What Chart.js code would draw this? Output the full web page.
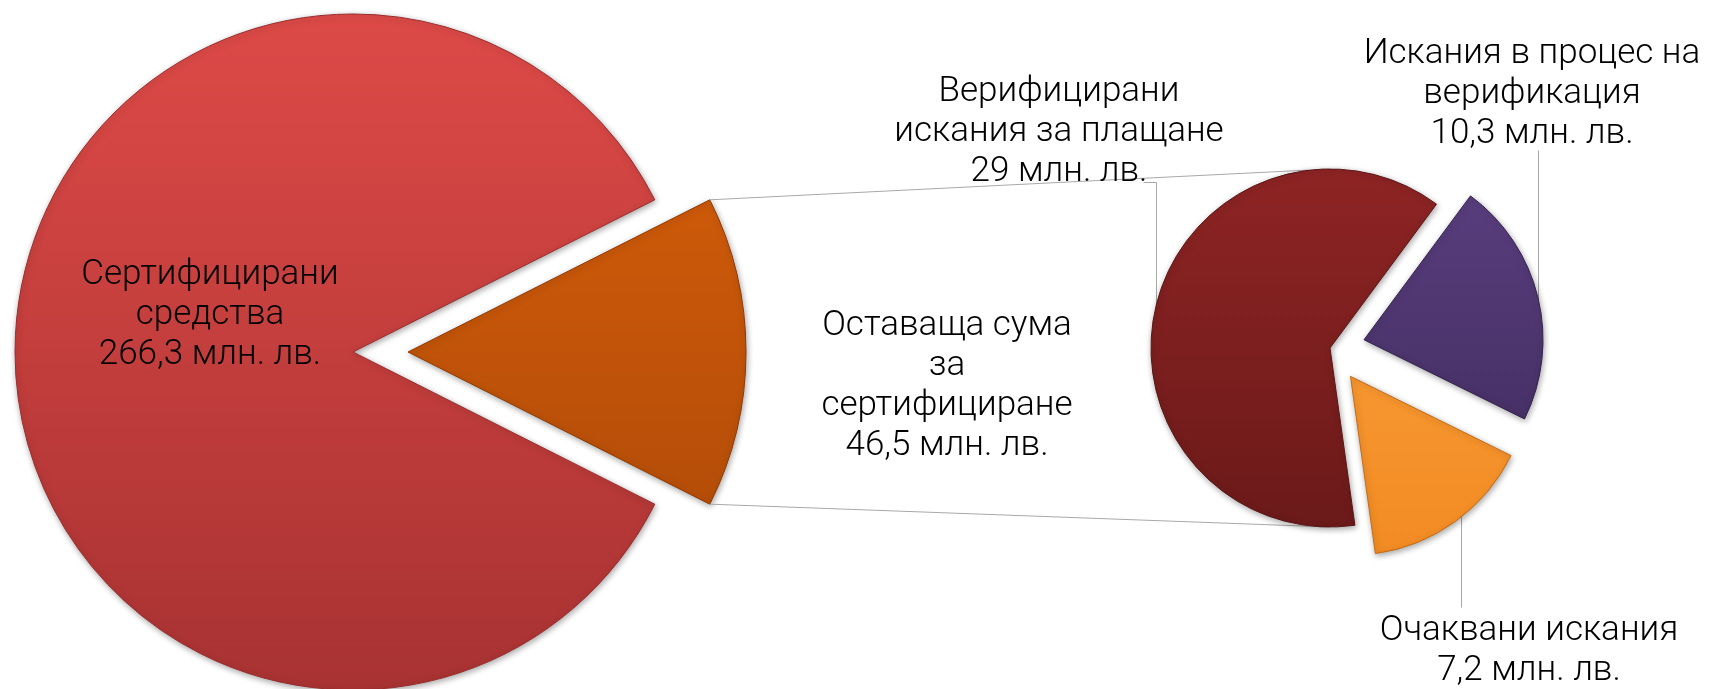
<!DOCTYPE html>
<html lang="bg">
<head>
<meta charset="utf-8">
<title>Pie of pie</title>
<script src="https://cdn.jsdelivr.net/npm/chart.js@4"></script>
<style>
  html, body { margin: 0; padding: 0; background: #fff; overflow: hidden; }
  #wrap { position: relative; width: 1715px; height: 689px; }
  #wrap canvas { position: absolute; left: 0; top: 0; }
  .lbl {
    position: absolute;
    transform: translate(-50%, -50%);
    text-align: center;
    white-space: nowrap;
    font-family: "Helvetica Neue", Roboto, Inter, sans-serif;
    font-weight: 300;
    font-size: 35px;
    line-height: 40px;
    color: #000;
  }
</style>
</head>
<body>
<div id="wrap">
  <canvas id="bigPie" width="1715" height="689"></canvas>
  <canvas id="smallPie" width="1715" height="689"></canvas>
</div>
<script>
// main pie: certified vs remaining (млн. лв.)
const bigNames = [['Сертифицирани', 'средства'], ['Оставаща сума', 'за', 'сертифициране']];
const bigValues = [266.3, 46.5];

// breakdown of the remaining sum
const smallNames = [['Верифицирани', 'искания за плащане'], ['Искания в процес на', 'верификация'], ['Очаквани искания']];
const smallValues = [29, 10.3, 7.2];

const unit = 'млн. лв.';

// styles
const bigColors = [['#dd4a47', '#a83232'], ['#dc610b', '#a64607']];
const bigBorders = ['#9a2c2c', '#8e3a05'];
const smallColors = [['#8e2424', '#6a1919'], ['#5b3f80', '#3e2a5b'], ['#fba23c', '#f28a22']];
const smallBorders = ['#5a1414', '#33224c', '#c46a14'];
const bigShift = [0, 55];
const smallShift = [0, 35, 35];
const lineColor = '#a8a8a8';

// where the label blocks sit
const bigLabelPos = [[210, 313], [947, 384]];
const smallLabelPos = [[1059, 130], [1532, 92], [1529, 649]];
const leaders = [
  [[1143, 182], [1156, 182], [1156, 348]],
  [[1538, 150], [1538, 348]],
  [[1461, 607], [1461, 470]]
];

function vgrad(top, bottom, pairs) {
  return c => {
    const g = c.chart.ctx.createLinearGradient(0, top, 0, bottom);
    const p = pairs[c.dataIndex] || pairs[0];
    g.addColorStop(0, p[0]);
    g.addColorStop(1, p[1]);
    return g;
  };
}

// draw each slice pushed out along its middle angle (no radius change)
const explodePlugin = {
  id: 'explode',
  beforeDatasetDraw(chart, args, opts) {
    const ctx = chart.ctx;
    const shifts = opts.shifts || [];
    args.meta.data.forEach((arc, i) => {
      const mid = (arc.startAngle + arc.endAngle) / 2;
      const s = shifts[i] || 0;
      ctx.save();
      ctx.translate(Math.cos(mid) * s, Math.sin(mid) * s);
      ctx.shadowColor = 'rgba(0,0,0,0.35)';
      ctx.shadowBlur = 6;
      ctx.shadowOffsetX = 1;
      ctx.shadowOffsetY = 2;
      arc.draw(ctx);
      ctx.restore();
    });
    return false;
  }
};

const baseOpts = {
  responsive: false,
  animation: false,
  events: []
};

const bigChart = new Chart(document.getElementById('bigPie'), {
  type: 'pie',
  data: {
    labels: bigNames.map(n => n.join(' ')),
    datasets: [{
      data: bigValues,
      backgroundColor: vgrad(14, 690, bigColors),
      borderColor: bigBorders,
      borderWidth: 1
    }]
  },
  options: {
    ...baseOpts,
    radius: 338,
    rotation: 90 + 180 * bigValues[1] / (bigValues[0] + bigValues[1]),
    layout: { padding: { left: 0, right: 1009, top: 15, bottom: 0 } },
    plugins: {
      legend: { display: false },
      tooltip: { enabled: false },
      explode: { shifts: bigShift }
    }
  },
  plugins: [explodePlugin]
});

// connector lines between the pies + label leaders, drawn under the small pie
const connectorPlugin = {
  id: 'connectors',
  beforeDatasetsDraw(chart) {
    const ctx = chart.ctx;
    const arc = bigChart.getDatasetMeta(0).data[1];
    const mid = (arc.startAngle + arc.endAngle) / 2;
    const ox = arc.x + Math.cos(mid) * bigShift[1];
    const oy = arc.y + Math.sin(mid) * bigShift[1];
    const r = arc.outerRadius;
    const p1 = [ox + r * Math.cos(arc.startAngle), oy + r * Math.sin(arc.startAngle)];
    const p2 = [ox + r * Math.cos(arc.endAngle), oy + r * Math.sin(arc.endAngle)];
    const sm = chart.getDatasetMeta(0).data[0];
    ctx.save();
    ctx.strokeStyle = lineColor;
    ctx.lineWidth = 1;
    ctx.beginPath();
    ctx.moveTo(p1[0], p1[1]);
    ctx.lineTo(sm.x, sm.y - sm.outerRadius);
    ctx.moveTo(p2[0], p2[1]);
    ctx.lineTo(sm.x, sm.y + sm.outerRadius);
    leaders.forEach(pts => {
      ctx.moveTo(pts[0][0] + 0.5, pts[0][1] + 0.5);
      pts.slice(1).forEach(p => ctx.lineTo(p[0] + 0.5, p[1] + 0.5));
    });
    ctx.stroke();
    ctx.restore();
  }
};

new Chart(document.getElementById('smallPie'), {
  type: 'pie',
  data: {
    labels: smallNames.map(n => n.join(' ')),
    datasets: [{
      data: smallValues,
      backgroundColor: vgrad(169, 540, smallColors),
      borderColor: smallBorders,
      borderWidth: 1
    }]
  },
  options: {
    ...baseOpts,
    radius: 179,
    rotation: 172,
    layout: { padding: { left: 945, right: 0, top: 7, bottom: 0 } },
    plugins: {
      legend: { display: false },
      tooltip: { enabled: false },
      explode: { shifts: smallShift }
    }
  },
  plugins: [connectorPlugin, explodePlugin]
});

// labels as html text
function fmt(v) {
  return String(v).replace('.', ',') + ' ' + unit;
}
function addLabel(lines, value, pos) {
  const div = document.createElement('div');
  div.className = 'lbl';
  div.style.left = pos[0] + 'px';
  div.style.top = pos[1] + 'px';
  div.innerHTML = lines.concat([fmt(value)]).join('<br>');
  document.getElementById('wrap').appendChild(div);
}
bigNames.forEach((n, i) => addLabel(n, bigValues[i], bigLabelPos[i]));
smallNames.forEach((n, i) => addLabel(n, smallValues[i], smallLabelPos[i]));
</script>
</body>
</html>
